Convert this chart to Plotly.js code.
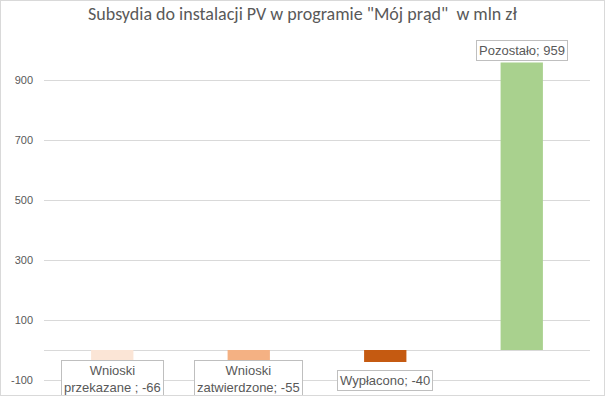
<!DOCTYPE html>
<html>
<head>
<meta charset="utf-8">
<script src="https://cdn.plot.ly/plotly-3.0.1.min.js"></script>
<style>
html,body{margin:0;padding:0;background:#fff;}
#wrap{width:603px;height:394px;border:1px solid #d9d9d9;overflow:hidden;}
#chart{width:603px;height:394px;}
</style>
</head>
<body>
<div id="wrap"><div id="chart"></div></div>
<script>
// Data
const categories = ['Wnioski przekazane ', 'Wnioski zatwierdzone', 'Wypłacono', 'Pozostało'];
const values = [-66, -55, -40, 959];
const barColors = ['#FBE5D6', '#F4B183', '#C55A11', '#A9D18E'];
const tickValues = [-100, 100, 300, 500, 700, 900];
const titleText = 'Subsydia do instalacji PV w programie "Mój prąd"  w mln zł';

const labelFont = {family: '"Liberation Sans", Arial, sans-serif', size: 13, color: '#595959'};

function labelText(cat, v) {
  let t = cat;
  if (cat.trim().indexOf(' ') > 0) t = cat.replace(' ', '<br>');
  t = t.replace(/ /g, '\u00a0');
  return t + ';\u00a0' + v;
}

const annotations = categories.map((c, i) => {
  const v = values[i];
  const base = {
    x: c, xref: 'x', yref: 'y',
    text: labelText(c, v),
    showarrow: false,
    font: labelFont,
    bgcolor: '#ffffff',
    bordercolor: '#bfbfbf',
    borderwidth: 1,
    borderpad: 2,
    align: 'center'
  };
  if (v >= 0) {
    return Object.assign(base, {y: v, yanchor: 'bottom', yshift: 1});
  }
  const twoLine = base.text.indexOf('<br>') >= 0;
  return Object.assign(base, {y: 0, yanchor: 'top', yshift: twoLine ? -10 : -20});
});

const trace = {
  type: 'bar',
  x: categories,
  y: values,
  marker: {color: barColors},
  hoverinfo: 'none'
};

const layout = {
  width: 603,
  height: 394,
  margin: {l: 43, r: 14, t: 44, b: 3},
  paper_bgcolor: '#ffffff',
  plot_bgcolor: '#ffffff',
  bargap: 0.69,
  showlegend: false,
  title: {
    text: titleText,
    font: {family: 'Carlito, Lato, "Open Sans", sans-serif', size: 18, color: '#595959', weight: 300},
    x: 0.5, xanchor: 'center', y: 0.985, yanchor: 'top'
  },
  xaxis: {
    showticklabels: false,
    showgrid: false,
    zeroline: false,
    showline: false,
    ticks: ''
  },
  yaxis: {
    range: [-140, 1017],
    tickvals: tickValues,
    ticktext: tickValues.map(String),
    tickfont: {family: '"Liberation Sans", Arial, sans-serif', size: 11, color: '#595959'},
    showgrid: true,
    gridcolor: '#d9d9d9',
    gridwidth: 1,
    zeroline: true,
    zerolinecolor: '#d9d9d9',
    zerolinewidth: 1,
    showline: false,
    ticks: '',
    ticklabelstandoff: 10
  },
  annotations: annotations
};

Plotly.newPlot('chart', [trace], layout, {displayModeBar: false, staticPlot: true});
</script>
</body>
</html>
